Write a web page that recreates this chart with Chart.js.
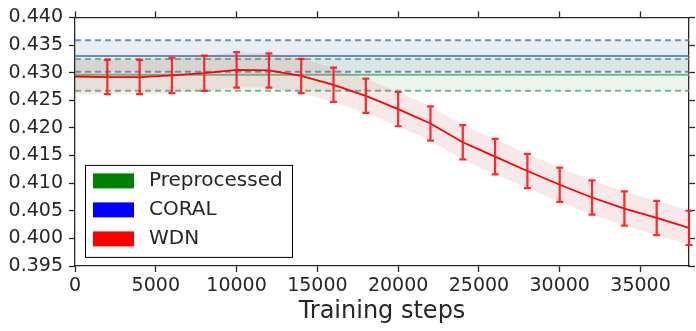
<!DOCTYPE html>
<html>
<head>
<meta charset="utf-8">
<script src="https://cdn.jsdelivr.net/npm/chart.js@4"></script>
<style>
  body { margin: 0; background: #fff; }
  canvas { display: block; }
</style>
</head>
<body>
<canvas id="chart" width="696" height="331"></canvas>
<script>
// Data
const steps = [0, 2000, 4000, 6000, 8000, 10000, 12000, 14000, 16000, 18000,
               20000, 22000, 24000, 26000, 28000, 30000, 32000, 34000, 36000, 38000];
const wdnMean = [0.4293, 0.4292, 0.4292, 0.4295, 0.4299, 0.4305, 0.4304, 0.4294, 0.4278, 0.4258,
                 0.4234, 0.4208, 0.4174, 0.4148, 0.4122, 0.4097, 0.4074, 0.4054, 0.4037, 0.4019];
const wdnErr = [0.0031, 0.0031, 0.0031, 0.0032, 0.0032, 0.0032, 0.0031, 0.0031, 0.0031, 0.0031,
                0.0031, 0.0031, 0.0031, 0.0032, 0.0031, 0.0031, 0.0031, 0.0031, 0.0031, 0.0031];

const coralMean = 0.4330;
const coralStd = 0.00285;
const preMean = 0.4296;
const preStd = 0.00288;

const xTicks = [0, 5000, 10000, 15000, 20000, 25000, 30000, 35000];
const yTicks = [0.395, 0.400, 0.405, 0.410, 0.415, 0.420, 0.425, 0.430, 0.435, 0.440];

const legendLabels = ['Preprocessed', 'CORAL', 'WDN'];
const legendColors = ['#008000', '#0000ff', '#ff0000'];

const xMin = 0, xMax = 38000;
const textColor = '#262626';
const font = 'DejaVu Sans';

function flat(v) {
    return [{x: xMin, y: v}, {x: xMax, y: v}];
}

const blueLine = 'rgba(76, 114, 176, 0.8)';
const greenLine = 'rgba(85, 168, 104, 0.8)';

// error bars on the WDN curve
const errorBars = {
    id: 'errorBars',
    afterDatasetsDraw(chart) {
        const ctx = chart.ctx;
        const xs = chart.scales.x, ys = chart.scales.y;
        ctx.save();
        ctx.strokeStyle = 'rgba(255, 25, 25, 0.92)';
        ctx.lineWidth = 2.2;
        for (let i = 1; i < steps.length; i++) {
            const px = xs.getPixelForValue(steps[i]);
            const top = ys.getPixelForValue(wdnMean[i] + wdnErr[i]);
            const bot = ys.getPixelForValue(wdnMean[i] - wdnErr[i]);
            ctx.beginPath();
            ctx.moveTo(px, top); ctx.lineTo(px, bot);
            ctx.moveTo(px - 3.5, top); ctx.lineTo(px + 3.5, top);
            ctx.moveTo(px - 3.5, bot); ctx.lineTo(px + 3.5, bot);
            ctx.stroke();
        }
        ctx.restore();
    }
};

// legend box inside the plot, lower left
const boxLegend = {
    id: 'boxLegend',
    afterDraw(chart) {
        const ctx = chart.ctx;
        const a = chart.chartArea;
        const x0 = a.left + 10, y0 = a.top + 147.5;
        ctx.save();
        ctx.fillStyle = '#fff';
        ctx.fillRect(x0, y0, 208, 93);
        ctx.strokeStyle = '#000';
        ctx.lineWidth = 1;
        ctx.strokeRect(x0 + 0.5, y0 + 0.5, 207, 92);
        ctx.font = '20px "' + font + '"';
        ctx.textBaseline = 'middle';
        legendLabels.forEach((lab, i) => {
            const cy = y0 + 16 + i * 29;
            ctx.fillStyle = legendColors[i];
            ctx.fillRect(x0 + 8, cy - 7.5, 41, 15);
            ctx.fillStyle = textColor;
            ctx.fillText(lab, x0 + 64, cy);
        });
        ctx.restore();
    }
};

function setTicks(list) {
    return (scale) => { scale.ticks = list.map(v => ({value: v})); };
}

const edge = {
    display: true,
    color: textColor,
    width: 1.3
};
const tickGrid = {
    drawOnChartArea: false,
    drawTicks: true,
    tickLength: 6,
    tickColor: textColor,
    tickWidth: 1.3
};

new Chart(document.getElementById('chart').getContext('2d'), {
    type: 'line',
    data: {
        datasets: [
            // 0-2 WDN
            {data: steps.map((s, i) => ({x: s, y: wdnMean[i]})), borderColor: '#ff0000', borderWidth: 1.8, order: 0, fill: false},
            {data: steps.map((s, i) => ({x: s, y: wdnMean[i] + wdnErr[i]})), borderWidth: 0, borderColor: 'rgba(0,0,0,0)', order: 1, fill: false},
            {data: steps.map((s, i) => ({x: s, y: wdnMean[i] - wdnErr[i]})), borderWidth: 0, borderColor: 'rgba(0,0,0,0)', order: 1,
             fill: 1, backgroundColor: 'rgba(196, 78, 82, 0.13)'},
            // 3-5 Preprocessed
            {data: flat(preMean), borderColor: greenLine, borderWidth: 2, order: 2, fill: false},
            {data: flat(preMean + preStd), borderColor: greenLine, borderWidth: 2, borderDash: [6, 4], order: 3, fill: false},
            {data: flat(preMean - preStd), borderColor: greenLine, borderWidth: 2, borderDash: [6, 4], order: 3,
             fill: 4, backgroundColor: 'rgba(85, 168, 104, 0.11)'},
            // 6-8 CORAL
            {data: flat(coralMean), borderColor: blueLine, borderWidth: 2, order: 4, fill: false},
            {data: flat(coralMean + coralStd), borderColor: blueLine, borderWidth: 2, borderDash: [6, 4], order: 5, fill: false},
            {data: flat(coralMean - coralStd), borderColor: blueLine, borderWidth: 2, borderDash: [6, 4], order: 5,
             fill: 7, backgroundColor: 'rgba(76, 114, 176, 0.12)'}
        ]
    },
    options: {
        responsive: false,
        animation: false,
        events: [],
        layout: {padding: 0},
        elements: {point: {radius: 0}, line: {tension: 0}},
        plugins: {legend: {display: false}, tooltip: {enabled: false}},
        scales: {
            x: {
                type: 'linear', position: 'bottom', min: xMin, max: xMax,
                afterBuildTicks: setTicks(xTicks),
                afterFit: (s) => { s.height = 65; },
                border: edge, grid: tickGrid,
                ticks: {color: textColor, font: {family: font, size: 19}, padding: 3, maxRotation: 0, autoSkip: false,
                        callback: (v) => String(v)},
                title: {display: true, text: 'Training steps', color: textColor,
                        font: {family: font, size: 24}, padding: {top: 0, bottom: 5}}
            },
            x2: {
                type: 'linear', position: 'top', display: true, min: xMin, max: xMax,
                afterBuildTicks: setTicks(xTicks),
                afterFit: (s) => { s.height = 16; },
                border: edge, grid: tickGrid,
                ticks: {display: false}
            },
            y: {
                type: 'linear', position: 'left', min: 0.395, max: 0.440,
                afterBuildTicks: setTicks(yTicks),
                afterFit: (s) => { s.width = 75; },
                border: edge, grid: tickGrid,
                ticks: {color: textColor, font: {family: font, size: 19}, padding: 6,
                        callback: (v) => v.toFixed(3)}
            },
            y2: {
                type: 'linear', position: 'right', display: true, min: 0.395, max: 0.440,
                afterBuildTicks: setTicks(yTicks),
                afterFit: (s) => { s.width = 7; },
                border: edge, grid: tickGrid,
                ticks: {display: false}
            }
        }
    },
    plugins: [errorBars, boxLegend]
});
</script>
</body>
</html>
